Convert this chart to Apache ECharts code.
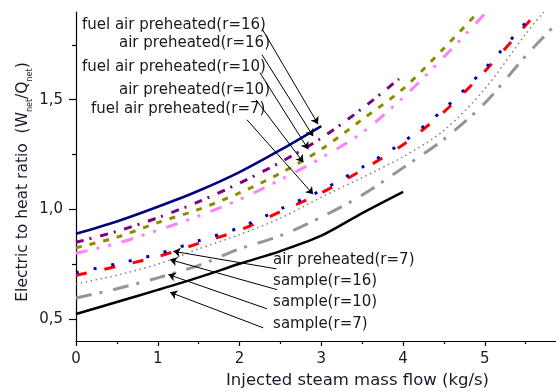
<!DOCTYPE html>
<html><head><meta charset="utf-8">
<script src="https://cdn.jsdelivr.net/npm/echarts@6/dist/echarts.min.js"></script>
<style>html,body{margin:0;padding:0;background:#fff}#c{width:556px;height:391px}</style>
</head><body><div id="c"></div>
<script>
// ---- data ----
const seriesNames = ['fuel air preheated(r=16)','air preheated(r=16)','fuel air preheated(r=10)','air preheated(r=10)','fuel air preheated(r=7)','air preheated(r=7)','sample(r=16)','sample(r=10)','sample(r=7)'];
const navyX   = [0,0.5,1,1.5,2,2.5,3];
const navyY   = [0.889,0.945,1.012,1.085,1.17,1.271,1.38];
const purpleX = [0,0.5,1,1.5,2,2.5,3,3.5,3.95];
const purpleY = [0.85,0.9,0.962,1.035,1.12,1.215,1.325,1.46,1.595];
const oliveX  = [0,0.5,1,1.5,2,2.5,3,3.5,4,4.5,4.92];
const oliveY  = [0.825,0.873,0.94,1.0,1.075,1.165,1.274,1.41,1.55,1.735,1.9];
const pinkX   = [0,0.5,1,1.5,2,2.5,3,3.5,4,4.5,5.02];
const pinkY   = [0.80,0.845,0.905,0.97,1.045,1.135,1.235,1.35,1.51,1.695,1.9];
const blueX   = [0,0.5,1,1.5,2,2.5,3,3.5,4,4.5,5,5.5,5.6];
const blueY   = [0.712,0.752,0.797,0.857,0.917,1.002,1.087,1.192,1.307,1.457,1.642,1.852,1.9];
const redX    = [0,0.5,1,1.5,2,2.5,3,3.5,4,4.5,5,5.5,5.64];
const redY    = [0.70,0.74,0.785,0.845,0.905,0.99,1.075,1.18,1.295,1.445,1.63,1.84,1.9];
const grayDotX = [0,0.5,1,1.5,2,2.5,3,3.5,4,4.5,5,5.5,5.72];
const grayDotY = [0.66,0.70,0.75,0.82,0.885,0.96,1.055,1.145,1.24,1.36,1.55,1.80,1.9];
const grayDashX = [0,0.5,1,1.5,2,2.5,3,3.5,4,4.5,5,5.5,5.87];
const grayDashY = [0.596,0.638,0.688,0.745,0.82,0.88,0.965,1.065,1.19,1.32,1.485,1.70,1.845];
const blackX  = [0,0.5,1,1.5,2,2.5,3,3.5,4];
const blackY  = [0.523,0.578,0.633,0.69,0.752,0.81,0.88,0.983,1.08];

const xTickValues = [0,1,2,3,4,5];
const xTickLabels = ['0','1','2','3','4','5'];
const xMinorTicks = [0.5,1.5,2.5,3.5,4.5,5.5];
const yTickValues = [0.5,1.0,1.5];
const yTickLabels = ['0,5','1,0','1,5'];
const yMinorTicks = [0.75,1.25,1.75];
const xMin = 0, xMax = 5.87, yMin = 0.4, yMax = 1.9;

const xTitle = 'Injected steam mass flow (kg/s)';
const yTitleParts = ['Electric to heat ratio  (W', 'net', '/Q', 'net', ')'];

// annotations (data coordinates)
const annTextAt = [[0.073,1.842],[0.526,1.759],[0.073,1.649],[0.526,1.546],[0.183,1.457],[2.41,0.768],[2.41,0.672],[2.41,0.576],[2.41,0.478]];
const annArrowFrom = [[2.274,1.824],[2.274,1.705],[2.25,1.623],[2.2,1.5],[2.09,1.409],[2.45,0.729],[2.46,0.634],[2.335,0.547],[2.29,0.46]];
const annArrowTo = [[2.96,1.389],[2.90,1.334],[2.84,1.274],[2.78,1.215],[2.90,1.069],[1.19,0.809],[1.15,0.771],[1.13,0.703],[1.15,0.622]];

// ---- chart ----
const FONT = 'DejaVu Sans';
const pairs = (xs, ys) => xs.map((x, i) => [x, ys[i]]);
const lbl = (vals, labels) => v => { const i = vals.findIndex(t => Math.abs(t - v) < 1e-6); return i >= 0 ? labels[i] : ''; };

const styles = [
  {x: navyX, y: navyY, color: '#000080', width: 2.5, type: 'solid'},
  {x: purpleX, y: purpleY, color: '#800080', width: 3, type: [8, 6, 2, 9]},
  {x: oliveX, y: oliveY, color: '#8c8c00', width: 3, type: [6, 8]},
  {x: pinkX, y: pinkY, color: '#ff80ff', width: 3, type: [12, 9, 3, 9, 3, 11]},
  {x: redX, y: redY, color: '#ff0000', width: 3, type: [11, 18]},
  {x: blueX, y: blueY, color: '#0000c0', width: 3, type: [3, 15]},
  {x: grayDotX, y: grayDotY, color: '#808080', width: 1.5, type: [1.5, 3.5]},
  {x: grayDashX, y: grayDashY, color: '#959595', width: 3, type: [16, 8, 3, 11]},
  {x: blackX, y: blackY, color: '#000000', width: 2.5, type: 'solid'}
];
// series order: name index mapping (red = air preheated r=7, blue = fuel air preheated r=7)
const nameIdx = [0, 1, 2, 3, 5, 4, 6, 7, 8];

const series = styles.map((s, i) => ({
  name: seriesNames[nameIdx[i]], type: 'line', xAxisIndex: 0, yAxisIndex: 0,
  data: pairs(s.x, s.y), smooth: 0.3, showSymbol: false, symbol: 'none',
  lineStyle: {color: s.color, width: s.width, type: s.type, cap: 'butt'},
  silent: true, z: 2
}));
series.push({
  type: 'line', xAxisIndex: 0, yAxisIndex: 0, data: [], showSymbol: false, silent: true,
  markLine: {
    silent: true, symbol: ['none', 'arrow'], symbolSize: 7, animation: false,
    lineStyle: {color: '#000', width: 1, type: 'solid'}, label: {show: false},
    data: annArrowFrom.map((f, i) => [{coord: f}, {coord: annArrowTo[i]}])
  }
});

const chart = echarts.init(document.getElementById('c'));
chart.setOption({
  animation: false,
  grid: {left: 76, right: 0, top: 12, bottom: 50},
  xAxis: [
    {type: 'value', min: xMin, max: xMax, position: 'bottom',
     axisLine: {onZero: false, lineStyle: {color: '#000', width: 1.2}},
     axisTick: {customValues: xTickValues, length: 5, lineStyle: {color: '#000', width: 1.2}},
     axisLabel: {customValues: xTickValues, formatter: lbl(xTickValues, xTickLabels), fontFamily: FONT, fontSize: 15, color: '#1a1a2a', margin: 11},
     splitLine: {show: false}},
    {type: 'value', min: xMin, max: xMax, position: 'bottom',
     axisLine: {show: false}, axisTick: {customValues: xMinorTicks, length: 3, lineStyle: {color: '#000', width: 1.2}},
     axisLabel: {show: false}, splitLine: {show: false}}
  ],
  yAxis: [
    {type: 'value', min: yMin, max: yMax, position: 'left',
     axisLine: {show: true, onZero: false, lineStyle: {color: '#000', width: 1.2}},
     axisTick: {show: true, customValues: yTickValues, length: 7, lineStyle: {color: '#000', width: 1.2}},
     axisLabel: {customValues: yTickValues, formatter: lbl(yTickValues, yTickLabels), fontFamily: FONT, fontSize: 15, color: '#1a1a2a', margin: 13},
     splitLine: {show: false}},
    {type: 'value', min: yMin, max: yMax, position: 'left', offset: 0,
     axisLine: {show: false}, axisTick: {show: true, customValues: yMinorTicks, length: 4, lineStyle: {color: '#000', width: 1.2}},
     axisLabel: {show: false}, splitLine: {show: false}}
  ],
  series: series
});

const graphics = [
  {type: 'text', x: 226, y: 381, silent: true,
   style: {text: xTitle, font: '16.5px "DejaVu Sans"', fill: '#1a1a2a', align: 'left', verticalAlign: 'middle'}},
  {type: 'text', x: 23, y: 182, rotation: Math.PI / 2, silent: true,
   style: {
     text: '{m|' + yTitleParts[0] + '}{s|' + yTitleParts[1] + '}{m|' + yTitleParts[2] + '}{s|' + yTitleParts[3] + '}{m|' + yTitleParts[4] + '}',
     align: 'center', verticalAlign: 'middle', fill: '#1a1a2a',
     rich: {
       m: {fontFamily: FONT, fontSize: 15.5, lineHeight: 22, verticalAlign: 'middle', fill: '#1a1a2a'},
       s: {fontFamily: FONT, fontSize: 8, lineHeight: 8, verticalAlign: 'bottom', fill: '#1a1a2a'}
     }
   }}
];
annTextAt.forEach((p, i) => {
  const px = chart.convertToPixel({seriesIndex: 0}, p);
  graphics.push({type: 'text', x: px[0], y: px[1], silent: true,
    style: {text: seriesNames[i], font: '15px "DejaVu Sans"', fill: '#1a1a1a', align: 'left', verticalAlign: 'middle'}});
});
chart.setOption({graphic: graphics});
</script>
</body></html>
